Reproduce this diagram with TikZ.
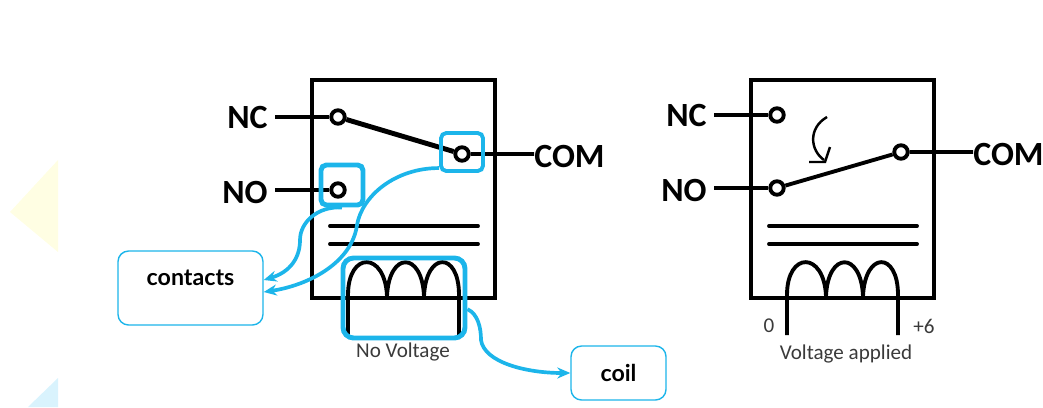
\documentclass[tikz,border=0pt]{standalone}
\usepackage{fontspec}
\usetikzlibrary{arrows.meta}
\setmainfont{Carlito}
\newfontfamily\calloutfont{Lato}
\definecolor{calloutblue}{HTML}{1CB5EA}
\definecolor{captiongray}{HTML}{3A3A3A}
\tikzset{
    terminal/.style={draw=black,fill=white,circle,line width=2.2pt,minimum size=2.7mm,inner sep=0pt},
    pinname/.style={font=\bfseries\fontsize{19.3}{22}\selectfont,inner sep=0pt},
    caption/.style={font=\fontsize{12}{14}\selectfont,text=captiongray,inner sep=0pt},
    wire/.style={draw=black,line width=2.2pt},
    highlight/.style={draw=calloutblue,line width=2.2pt,rounded corners=3pt},
    callout/.style={draw=calloutblue,fill=white,line width=.8pt,rounded corners=6pt,font=\calloutfont\bfseries\fontsize{13.2}{15}\selectfont,inner sep=0pt},
    pointer/.style={draw=calloutblue,line width=2.1pt,>={Stealth[length=2.6mm,width=2.2mm]},->},
    px/.style={x=.02cm,y=-.02cm}
}
\begin{document}
\begin{tikzpicture}[px]
    \useasboundingbox (0,0) rectangle (1043,407);
    \fill[yellow!11] (58,160) -- (10,212) -- (58,252) -- cycle;
    \fill[cyan!15] (58,378) -- (28,407) -- (58,407) -- cycle;
    \foreach \rel/\dx/\dy in {off/0/0,on/439/-2}{
        \node[draw=black,line width=2.5pt,minimum width=36.6mm,minimum height=43.6mm,inner sep=0pt] at (\dx+403.5,189)(box\rel){};
        \node[pinname,anchor=east] at (\dx+268,\dy+117)(ncname\rel){NC};
        \node[pinname,anchor=east] at (\dx+268,\dy+192)(noname\rel){NO};
        \node[pinname,anchor=west] at (\dx+534,\dy+156)(comname\rel){COM};
        \node[terminal] at (\dx+338,\dy+117)(nc\rel){};
        \node[terminal] at (\dx+338,\dy+190)(no\rel){};
        \node[terminal] at (\dx+462,\dy+154)(com\rel){};
        \path[wire] (ncname\rel.east) ++(7,0) -- (nc\rel);
        \path[wire] (noname\rel.east) ++(7,-2) -- (no\rel);
        \path[wire] (com\rel) -- ([yshift=.4mm]comname\rel.west);
        \draw[black,line width=2.2pt,line cap=round] (\dx+330,226) -- (\dx+478,226);
        \draw[black,line width=2.2pt,line cap=round] (\dx+330,244) -- (\dx+478,244);
        % coil
        \draw[black,line width=2.2pt] (\dx+348,335) -- (\dx+348,295)
            .. controls (\dx+348,251) and (\dx+385,251) .. (\dx+387,296)
            .. controls (\dx+389,251) and (\dx+422,251) .. (\dx+424,296)
            .. controls (\dx+426,251) and (\dx+459,251) .. (\dx+459,295) -- (\dx+459,335);
    }
    \path[draw,black,line width=2.8pt] (ncoff) -- (comoff);
    \path[wire] (noon) -- (comon);
    \node[caption] at (403,352)(novoltage){No Voltage};
    \node[caption] at (846,354)(voltage){Voltage applied};
    \node[caption] at (769,326)(zero){0};
    \node[caption] at (924,326)(six){+6};
    \draw[black,line width=1.4pt] (827,117) .. controls (808,128) and (810,150) .. (824,160);
    \draw[black,line width=1.4pt] (830,147) -- (825,162) -- (809,162);
    % callouts
    \node[highlight,minimum width=8.4mm,minimum height=7.6mm] at (462,152)(comhl){};
    \node[highlight,line width=2.8pt,minimum width=8.4mm,minimum height=8mm] at (342,185)(nohl){};
    \node[highlight,line width=2.8pt,minimum width=24.4mm,minimum height=16mm,rounded corners=6pt] at (404,298)(coilhl){};
    \node[callout,minimum width=29mm,minimum height=14.8mm,text height=2.4mm,text depth=3.6mm] at (190.5,288)(contacts){contacts};
    \node[callout,minimum width=19mm,minimum height=10.8mm] at (618.5,373)(coil){coil};
    \path[pointer] (nohl.south) .. controls (318,206) and (300,222) .. (300,240)
        .. controls (300,258) and (290,272) .. ([yshift=1.6mm]contacts.east);
    \path[pointer] (comhl.215) .. controls (395,168) and (362,196) .. (357,225)
        .. controls (352,262) and (310,285) .. ([yshift=-.8mm]contacts.east);
    \path[pointer] (coilhl.-10) .. controls (478,314) and (481,328) .. (481,340)
        .. controls (484,362) and (525,373) .. (coil.west);
\end{tikzpicture}
\end{document}
